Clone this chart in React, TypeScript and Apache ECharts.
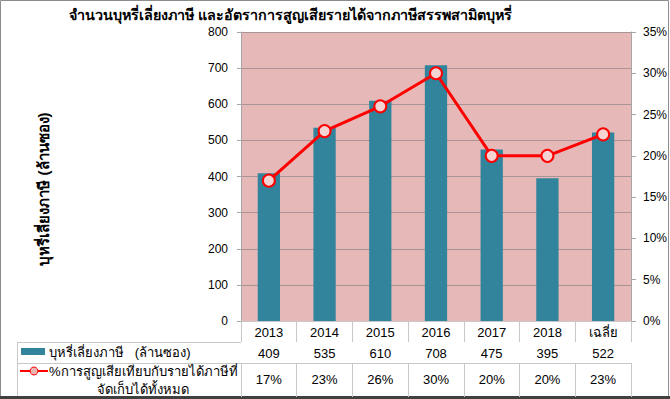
import React, { useEffect, useRef } from "react";
import * as echarts from "echarts";

const categories = ["2013", "2014", "2015", "2016", "2017", "2018", "เฉลี่ย"];
const barValues = [409, 535, 610, 708, 475, 395, 522];
const lossPct = [17, 23, 26, 30, 20, 20, 22.6];
const barLabels = ["409", "535", "610", "708", "475", "395", "522"];
const pctLabels = ["17%", "23%", "26%", "30%", "20%", "20%", "23%"];
const leftTicks = { min: 0, max: 800, interval: 100 };
const rightTicks = { min: 0, max: 35, interval: 5 };

const title = "จำนวนบุหรี่เลี่ยงภาษี และอัตราการสูญเสียรายได้จากภาษีสรรพสามิตบุหรี่";
const yTitle = "บุหรี่เลี่ยงภาษี (ล้านซอง)";
const barName = "บุหรี่เลี่ยงภาษี   (ล้านซอง)";
const lineName1 = "%การสูญเสียเทียบกับรายได้ภาษีที่";
const lineName2 = "จัดเก็บได้ทั้งหมด";

const FONT = "'Liberation Sans', Tahoma, sans-serif";
const TEAL = "#31849B";
const TABLE_LINE = "#C8C8C8";

export default function App() {
  const ref = useRef<HTMLDivElement>(null);
  useEffect(() => {
    document.body.style.margin = "0";
    const chart = echarts.init(ref.current!, null, { renderer: "svg" });
    const tableAxis = (data: string[], offset: number, tickLen: number, margin: number) => ({
      type: "category",
      data,
      position: "bottom",
      offset,
      gridIndex: 0,
      axisLine: { show: true, lineStyle: { color: TABLE_LINE, width: 1 } },
      axisTick: { show: true, interval: 0, length: tickLen, lineStyle: { color: TABLE_LINE } },
      axisLabel: { interval: 0, margin, fontSize: 13, color: "#000", fontFamily: FONT },
      splitLine: { show: false },
    });
    chart.setOption({
      animation: false,
      textStyle: { fontFamily: FONT },
      grid: {
        left: 241,
        right: 38,
        top: 32,
        bottom: 78,
        show: true,
        backgroundColor: "#E6B9B8",
        borderWidth: 0,
      },
      xAxis: [
        {
          ...tableAxis(categories, 0, 21, 5),
          axisLine: { show: true, lineStyle: { color: "#A6A6A6", width: 1 } },
        },
        tableAxis(barLabels, 21, 21, 5),
        tableAxis(pctLabels, 42, 34, 10),
      ],
      yAxis: [
        {
          type: "value",
          ...leftTicks,
          axisLine: { show: true, lineStyle: { color: "#A6A6A6" } },
          axisTick: { show: true, length: 4, lineStyle: { color: "#A6A6A6" } },
          axisLabel: { margin: 13, fontSize: 12, color: "#000", fontFamily: FONT },
          splitLine: { show: true, lineStyle: { color: "#A89494", width: 1 } },
        },
        {
          type: "value",
          ...rightTicks,
          position: "right",
          axisLine: { show: true, lineStyle: { color: "#A6A6A6" } },
          axisTick: { show: true, length: 5, lineStyle: { color: "#A6A6A6" } },
          axisLabel: { margin: 12, fontSize: 12, color: "#000", fontFamily: FONT, formatter: "{value}%" },
          splitLine: { show: false },
        },
      ],
      series: [
        {
          type: "bar",
          name: barName,
          data: barValues,
          xAxisIndex: 0,
          yAxisIndex: 0,
          barWidth: "40%",
          itemStyle: { color: TEAL },
        },
        {
          type: "line",
          name: lineName1 + lineName2,
          data: lossPct,
          xAxisIndex: 0,
          yAxisIndex: 1,
          symbol: "circle",
          symbolSize: 12,
          lineStyle: { color: "#FF0000", width: 3 },
          itemStyle: { color: "#F5D3D3", borderColor: "#FF0000", borderWidth: 2 },
          z: 5,
        },
      ],
      graphic: [
        {
          type: "text",
          left: 69,
          top: 8,
          style: { text: title, fontSize: 14.3, fontWeight: "bold", fill: "#000", fontFamily: FONT },
        },
        {
          type: "text",
          x: 43,
          y: 189,
          rotation: Math.PI / 2,
          style: {
            text: yTitle,
            fontSize: 15,
            fontWeight: "bold",
            fill: "#000",
            fontFamily: FONT,
            align: "center",
            verticalAlign: "middle",
          },
        },
        // table left part lines
        { type: "line", shape: { x1: 17, y1: 342.5, x2: 241, y2: 342.5 }, style: { stroke: TABLE_LINE, lineWidth: 1 } },
        { type: "line", shape: { x1: 17, y1: 363.5, x2: 241, y2: 363.5 }, style: { stroke: TABLE_LINE, lineWidth: 1 } },
        { type: "line", shape: { x1: 17.5, y1: 342, x2: 17.5, y2: 397 }, style: { stroke: TABLE_LINE, lineWidth: 1 } },
        // legend keys
        { type: "rect", shape: { x: 21, y: 348, width: 24, height: 7 }, style: { fill: TEAL } },
        {
          type: "text",
          x: 49,
          y: 352,
          style: { text: barName, fontSize: 13, fill: "#000", fontFamily: FONT, verticalAlign: "middle" },
        },
        { type: "line", shape: { x1: 20, y1: 371, x2: 48, y2: 371 }, style: { stroke: "#FF0000", lineWidth: 2 } },
        { type: "circle", shape: { cx: 34, cy: 371, r: 4 }, style: { fill: "#E8B4B4", stroke: "#FF0000", lineWidth: 1 } },
        {
          type: "text",
          x: 49,
          y: 371,
          style: { text: lineName1, fontSize: 13, fill: "#000", fontFamily: FONT, verticalAlign: "middle" },
        },
        {
          type: "text",
          x: 143,
          y: 389,
          style: { text: lineName2, fontSize: 13, fill: "#000", fontFamily: FONT, align: "center", verticalAlign: "middle" },
        },
        // outer border
        {
          type: "rect",
          shape: { x: 0.5, y: 0.5, width: 668, height: 397 },
          style: { fill: "none", stroke: "#8C8C8C", lineWidth: 1 },
          silent: true,
        },
        { type: "line", shape: { x1: 0, y1: 397.5, x2: 670, y2: 397.5 }, style: { stroke: "#404040", lineWidth: 3 } },
      ],
    });
    return () => chart.dispose();
  }, []);
  return <div ref={ref} style={{ width: 670, height: 399 }} />;
}
